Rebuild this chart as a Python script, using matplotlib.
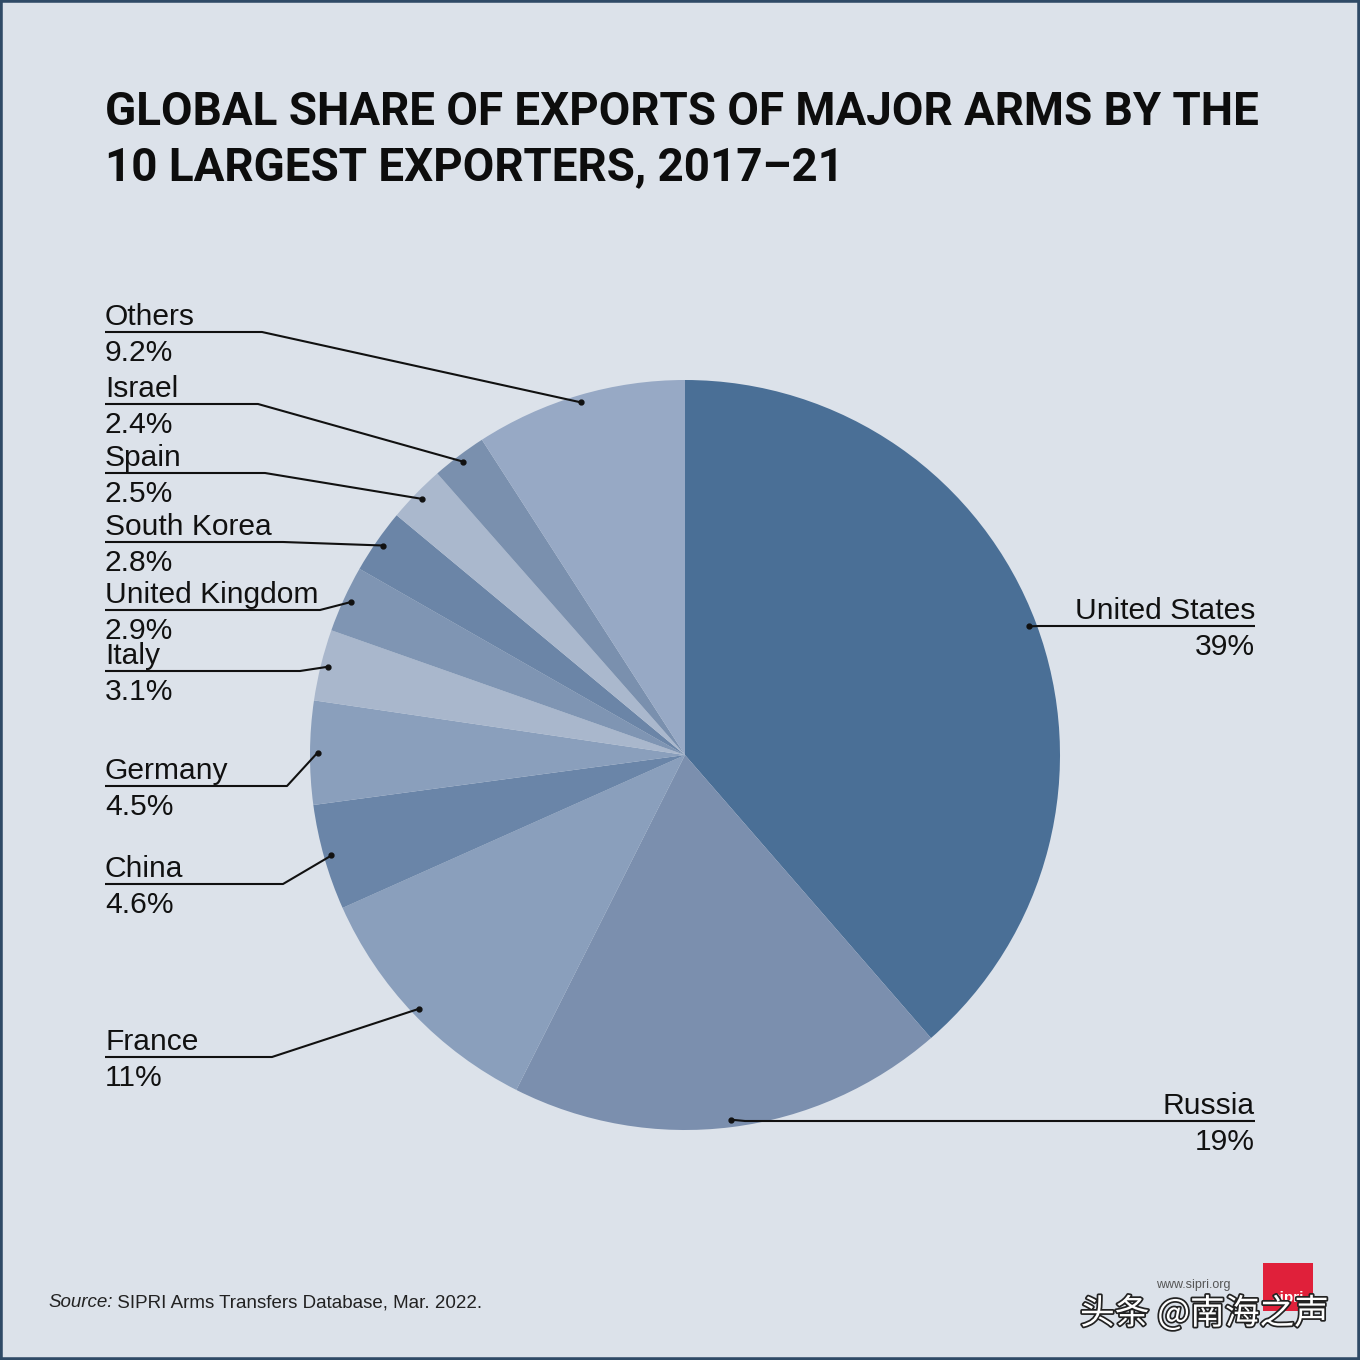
import numpy as np
import matplotlib
matplotlib.use('Agg')
import matplotlib.pyplot as plt
from matplotlib import font_manager
from matplotlib.patches import Rectangle
import matplotlib.patheffects as pe

# data, clockwise from the top
countries = ['United States', 'Russia', 'France', 'China', 'Germany', 'Italy',
             'United Kingdom', 'South Korea', 'Spain', 'Israel', 'Others']
shares = [39, 19, 11, 4.6, 4.5, 3.1, 2.9, 2.8, 2.5, 2.4, 9.2]
share_labels = ['39%', '19%', '11%', '4.6%', '4.5%', '3.1%', '2.9%', '2.8%',
                '2.5%', '2.4%', '9.2%']
colors = ['#4a6f96', '#7b8fae', '#8a9fbc', '#6a85a8', '#8a9fbc', '#a9b7cc',
          '#7f95b3', '#6b85a7', '#aab8cd', '#7a90ae', '#97a9c5']

title_lines = ['GLOBAL SHARE OF EXPORTS OF MAJOR ARMS BY THE',
               '10 LARGEST EXPORTERS, 2017\u201321']

# label layout in pixels: side, y of underline, x of elbow
layout = {
    'United States': ('right', 626, 1040),
    'Russia': ('right', 1121, 745),
    'France': ('left', 1057, 272),
    'China': ('left', 884, 283),
    'Germany': ('left', 786, 287),
    'Italy': ('left', 671, 300),
    'United Kingdom': ('left', 610, 320),
    'South Korea': ('left', 542, 283),
    'Spain': ('left', 473, 265),
    'Israel': ('left', 404, 258),
    'Others': ('left', 332, 262),
}

fonts = font_manager.fontManager.ttflist
names = {f.name for f in fonts}
label_font = 'Liberation Sans' if 'Liberation Sans' in names else 'DejaVu Sans'
title_font = 'Roboto' if 'Roboto' in names else 'DejaVu Sans'

W = 1360
bg = '#dce2ea'
pt = 0.72  # px -> pt at dpi 100

fig = plt.figure(figsize=(13.6, 13.6), dpi=100, facecolor=bg)
ax = fig.add_axes([0, 0, 1, 1])
ax.set_facecolor(bg)

cx, cy, R = 685, 755, 375
wedges, _ = ax.pie(shares, colors=colors, startangle=-90, counterclock=True,
                   center=(cx, cy), radius=R, frame=True,
                   wedgeprops=dict(linewidth=0))
ax.set_xlim(0, W)
ax.set_ylim(W, 0)
ax.set_aspect('equal')
ax.axis('off')

lab_size = 30 * pt
for w, name, val in zip(wedges, countries, share_labels):
    side, ly, ex = layout[name]
    mid = np.deg2rad((w.theta1 + w.theta2) / 2)
    dx = cx + 0.98 * R * np.cos(mid)
    dy = cy + 0.98 * R * np.sin(mid)
    if side == 'left':
        x0, ha = 105, 'left'
    else:
        x0, ha = 1255, 'right'
    ax.plot([x0, ex, dx], [ly, ly, dy], color='#111111', lw=1.5,
            solid_capstyle='butt')
    ax.plot(dx, dy, 'o', color='#111111', ms=3.5)
    ax.text(x0, ly - 7, name, ha=ha, va='baseline', fontsize=lab_size,
            family=label_font, color='#111111')
    ax.text(x0, ly + 29, val, ha=ha, va='baseline', fontsize=lab_size,
            family=label_font, color='#111111')

# title, sized so the first line runs to x=1258
t1 = ax.text(105, 125, title_lines[0], ha='left', va='baseline',
             fontsize=46 * pt, color='#0d0d0d', family=title_font, weight='bold')
t2 = ax.text(105, 180, title_lines[1], ha='left', va='baseline',
             fontsize=46 * pt, color='#0d0d0d', family=title_font, weight='bold')
fig.canvas.draw()
tw = t1.get_window_extent().width
fs = float(np.clip(46 * pt * 1153 / tw, 40 * pt, 50 * pt))
t1.set_fontsize(fs)
t2.set_fontsize(fs)

# source line
src_size = 18.8 * pt
src = ax.text(48, 1307, 'Source:', ha='left', va='baseline', fontsize=src_size,
              family=label_font, style='italic', color='#222222')
fig.canvas.draw()
bb = src.get_window_extent()
ax.text(48 + bb.width, 1307, ' SIPRI Arms Transfers Database, Mar. 2022.',
        ha='left', va='baseline', fontsize=src_size, family=label_font,
        color='#222222')

# sipri logo and watermark
ax.add_patch(Rectangle((1263, 1263), 50, 48, color='#e0203a', lw=0))
ax.text(1288, 1302, 'sipri', ha='center', va='baseline', fontsize=11,
        family=label_font, weight='bold', color='white')
ax.text(1193, 1288, 'www.sipri.org', ha='center', va='baseline', fontsize=9,
        family=label_font, color='#555555')
ax.text(1080, 1324, '头条 @南海之声', ha='left', va='baseline', fontsize=25,
        family=['Noto Sans CJK SC', 'DejaVu Sans'], color='white',
        path_effects=[pe.withStroke(linewidth=2.5, foreground='#222222')])

# frame
fig.patches.append(Rectangle((0, 0), 1, 1, transform=fig.transFigure,
                             fill=False, edgecolor='#2f4a66', lw=4))

fig.savefig('out.png', dpi=100, facecolor=bg)
